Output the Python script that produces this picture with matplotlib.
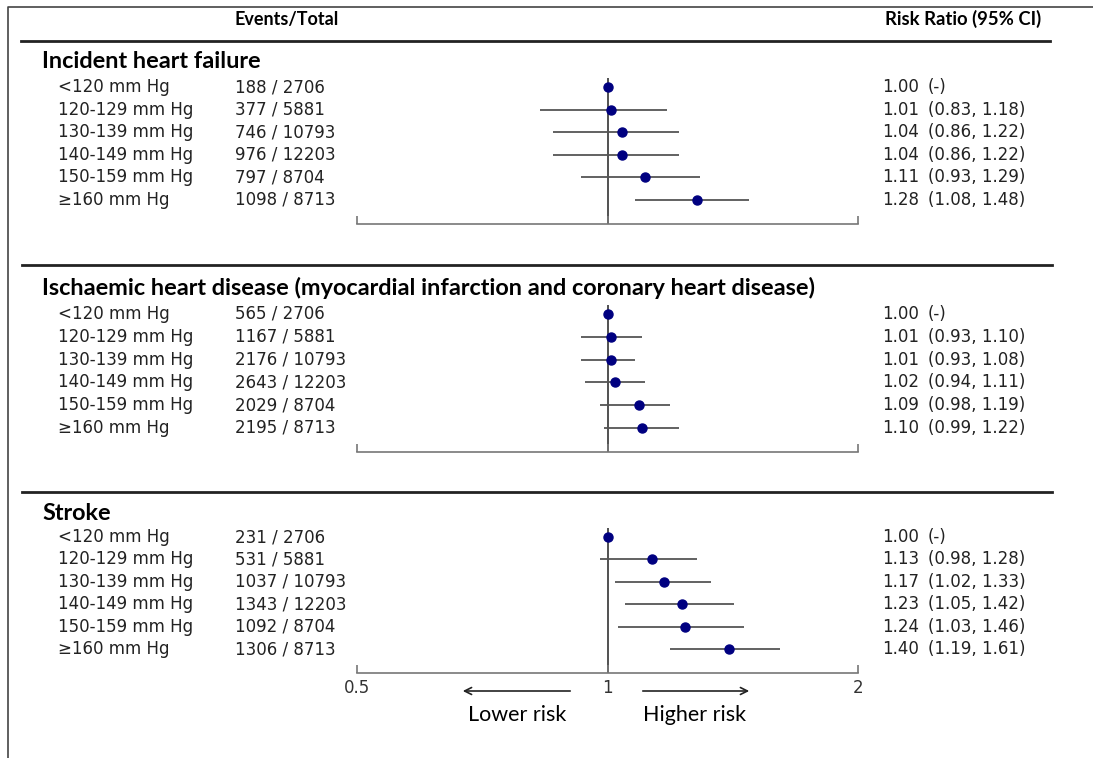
import matplotlib
matplotlib.use("Agg")
import matplotlib.pyplot as plt
from matplotlib.ticker import NullLocator

W, H = 1093, 758

groups = ["<120 mm Hg", "120-129 mm Hg", "130-139 mm Hg",
          "140-149 mm Hg", "150-159 mm Hg", "\u2265160 mm Hg"]
totals = [2706, 5881, 10793, 12203, 8704, 8713]

titles = ["Incident heart failure",
          "Ischaemic heart disease (myocardial infarction and coronary heart disease)",
          "Stroke"]

events_hf = [188, 377, 746, 976, 797, 1098]
rr_hf = [1.00, 1.01, 1.04, 1.04, 1.11, 1.28]
lo_hf = [None, 0.83, 0.86, 0.86, 0.93, 1.08]
hi_hf = [None, 1.18, 1.22, 1.22, 1.29, 1.48]

events_ihd = [565, 1167, 2176, 2643, 2029, 2195]
rr_ihd = [1.00, 1.01, 1.01, 1.02, 1.09, 1.10]
lo_ihd = [None, 0.93, 0.93, 0.94, 0.98, 0.99]
hi_ihd = [None, 1.10, 1.08, 1.11, 1.19, 1.22]

events_st = [231, 531, 1037, 1343, 1092, 1306]
rr_st = [1.00, 1.13, 1.17, 1.23, 1.24, 1.40]
lo_st = [None, 0.98, 1.02, 1.05, 1.03, 1.19]
hi_st = [None, 1.28, 1.33, 1.42, 1.46, 1.61]

xticks = [0.5, 1, 2]
xticklabels = ["0.5", "1", "2"]

# layout in pixels: title y, first row y, row step, axis line y
layout = [(61, 87, 22.6, 224), (288, 314, 22.8, 452), (514, 537, 22.4, 673)]
panels = [(events_hf, rr_hf, lo_hf, hi_hf),
          (events_ihd, rr_ihd, lo_ihd, hi_ihd),
          (events_st, rr_st, lo_st, hi_st)]

TITLE_FONT = ["Lato", "DejaVu Sans"]
BODY_FONT = ["DejaVu Sans"]
X0, X1 = 357, 858

fig = plt.figure(figsize=(W / 100, H / 100), dpi=100)
fig.patch.set_facecolor("white")

bg = fig.add_axes([0, 0, 1, 1])
bg.set_xlim(0, W)
bg.set_ylim(H, 0)
bg.axis("off")

# frame of the screenshot
bg.plot([8, 8, W], [H, 7, 7], color="#444444", lw=1.2)

# header
bg.text(235, 19, "Events/Total", fontsize=13, fontweight="bold",
        family=TITLE_FONT, va="center", ha="left")
bg.text(1041, 19, "Risk Ratio (95% CI)", fontsize=13.3, fontweight="bold",
        family=TITLE_FONT, va="center", ha="right")
bg.plot([21, 1050], [41, 41], color="#222222", lw=2)
for yy in [265, 492]:
    bg.plot([22, 1052], [yy, yy], color="#222222", lw=2)

for p, ((ty, r0, step, axy), (ev, rr, lo, hi)) in enumerate(zip(layout, panels)):
    rows = [r0 + i * step for i in range(len(groups))]
    bg.text(42, ty, titles[p], fontsize=16.9, fontweight="bold",
            family=TITLE_FONT, va="center", ha="left")
    for i, y in enumerate(rows):
        bg.text(58, y, groups[i], fontsize=12, family=BODY_FONT, va="center", color="#222222")
        bg.text(235, y, f"{ev[i]} / {totals[i]}", fontsize=12, family=BODY_FONT,
                va="center", color="#222222")
        bg.text(882, y, f"{rr[i]:.2f}", fontsize=12, family=BODY_FONT,
                va="center", color="#222222")
        ci = "(-)" if lo[i] is None else f"({lo[i]:.2f}, {hi[i]:.2f})"
        bg.text(928, y, ci, fontsize=12, family=BODY_FONT, va="center", color="#222222")

    top = r0 - 9
    ax = fig.add_axes([X0 / W, 1 - axy / H, (X1 - X0) / W, (axy - top) / H])
    ax.set_facecolor("none")
    ax.set_xscale("log")
    ax.set_xlim(0.5, 2)
    ax.set_ylim(axy, top)
    for s in ["top", "left", "right"]:
        ax.spines[s].set_visible(False)
    ax.spines["bottom"].set_color("#777777")
    ax.spines["bottom"].set_linewidth(1.2)
    ax.set_yticks([])
    ax.set_xticks(xticks)
    ax.xaxis.set_minor_locator(NullLocator())
    ax.tick_params(axis="x", direction="in", length=6, color="#777777", width=1.2,
                   labelsize=12, labelcolor="#333333", pad=4)
    if p == len(panels) - 1:
        ax.set_xticklabels(xticklabels)
    else:
        ax.set_xticklabels([])
    ax.axvline(1, color="#333333", lw=1.2, zorder=1)
    for i, y in enumerate(rows):
        if lo[i] is not None:
            ax.hlines(y, lo[i], hi[i], color="#555555", lw=1.3, zorder=2)
    ax.plot(rr, rows, "o", color="#000080", ms=6.5, zorder=3, clip_on=False)

# direction arrows
arrow = dict(arrowstyle="->,head_length=0.5,head_width=0.25", color="#222222", lw=1.2)
bg.annotate("", xy=(460, 691), xytext=(573, 691), arrowprops=arrow)
bg.annotate("", xy=(752, 691), xytext=(640, 691), arrowprops=arrow)
bg.text(517, 715, "Lower risk", fontsize=15.5, family=TITLE_FONT, ha="center", va="center")
bg.text(695, 715, "Higher risk", fontsize=15.5, family=TITLE_FONT, ha="center", va="center")

fig.savefig("out.png", dpi=100)
